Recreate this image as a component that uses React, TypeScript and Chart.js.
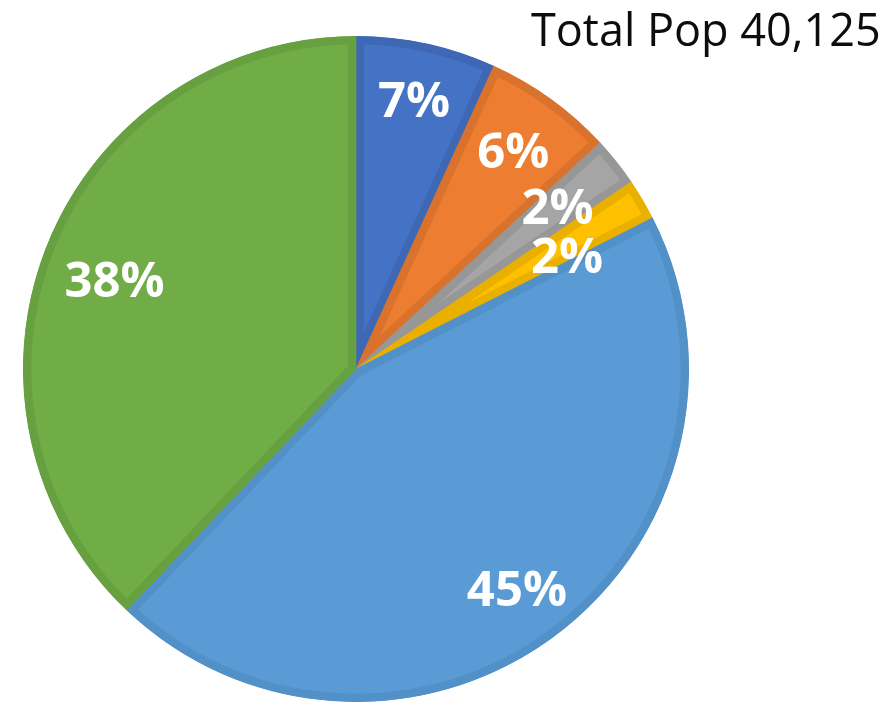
import React, { useEffect, useRef } from "react";
import { Chart, registerables } from "chart.js";

Chart.register(...registerables);

const categories = ["Group A", "Group B", "Group C", "Group D", "Group E", "Group F"];
const shares = [6.8, 6.3, 2.4, 2.0, 44.6, 37.9];
const fillColors = ["#4472C4", "#ED7D31", "#A5A5A5", "#FFC000", "#5B9BD5", "#70AD47"];
const borderColors = ["#3E68B4", "#D8722C", "#979797", "#EAB000", "#5290C8", "#67A041"];
const titleText = "Total Pop 40,125";
// label placement tweaks (fraction of radius, angle offset in degrees)
const labelRadius = [0.823, 0.805, 0.775, 0.718, 0.82, 0.772];
const labelAngle = [0, 0.1, -0.1, 2.6, 0.6, -1.7];

const labelPlugin = {
  id: "pctLabels",
  afterDatasetsDraw(chart: any) {
    const ctx = chart.ctx;
    const meta = chart.getDatasetMeta(0);
    const data = chart.data.datasets[0].data as number[];
    const total = data.reduce((a, b) => a + b, 0);
    ctx.save();
    ctx.font = "bold 49px 'Open Sans'";
    ctx.fillStyle = "#FFFFFF";
    ctx.textAlign = "center";
    ctx.textBaseline = "middle";
    meta.data.forEach((arc: any, i: number) => {
      const { x, y, startAngle, endAngle, outerRadius } = arc.getProps(
        ["x", "y", "startAngle", "endAngle", "outerRadius"],
        true
      );
      const mid = (startAngle + endAngle) / 2 + (labelAngle[i] * Math.PI) / 180;
      const r = outerRadius * labelRadius[i];
      const txt = Math.round((data[i] / total) * 100) + "%";
      ctx.fillText(txt, x + Math.cos(mid) * r, y + Math.sin(mid) * r + 2);
    });
    ctx.restore();
  },
};

const titlePlugin = {
  id: "cornerTitle",
  afterDraw(chart: any) {
    const ctx = chart.ctx;
    ctx.save();
    ctx.font = "45px 'Open Sans'";
    ctx.fillStyle = "#0D0D0D";
    ctx.textAlign = "left";
    ctx.textBaseline = "alphabetic";
    ctx.fillText(titleText, 531, 46);
    ctx.restore();
  },
};

export default function App() {
  const ref = useRef<HTMLCanvasElement | null>(null);
  useEffect(() => {
    if (!ref.current) return;
    const chart = new Chart(ref.current, {
      type: "pie",
      data: {
        labels: categories,
        datasets: [
          {
            data: shares,
            backgroundColor: fillColors,
            borderColor: borderColors,
            borderWidth: 8,
            borderAlign: "inner",
            borderJoinStyle: "miter",
            hoverOffset: 0,
            offset: 0,
          } as any,
        ],
      },
      options: {
        animation: false,
        responsive: true,
        maintainAspectRatio: false,
        layout: { padding: { left: 23, right: 205, top: 36, bottom: 3 } },
        plugins: {
          legend: { display: false },
          tooltip: { enabled: false },
          title: { display: false },
        },
      },
      plugins: [labelPlugin, titlePlugin],
    });
    return () => chart.destroy();
  }, []);
  return (
    <div style={{ position: "fixed", left: 0, top: 0, width: 894, height: 705, background: "#fff" }}>
      <canvas ref={ref} />
    </div>
  );
}
